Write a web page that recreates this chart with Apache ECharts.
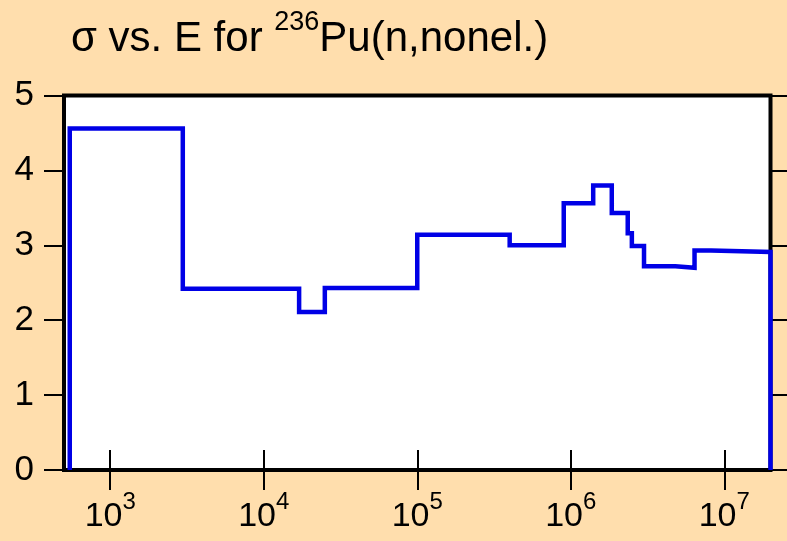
<!DOCTYPE html>
<html>
<head>
<meta charset="utf-8">
<script src="https://cdn.jsdelivr.net/npm/echarts@6/dist/echarts.min.js"></script>
<style>
html,body{margin:0;padding:0;background:#FFDEAD;}
#c{width:787px;height:541px;}
</style>
</head>
<body>
<div id="c"></div>
<script>
// Energy (eV) where each step begins, and cross section (b) held until next energy
var energies = [545, 545, 2970, 1.7e4, 2.5e4, 1e5, 4e5, 9e5, 1.4e6, 1.85e6, 2.35e6, 2.5e6, 3e6, 4.8e6, 6.4e6, 8.2e6, 2e7];
var sigma    = [0, 4.56, 2.42, 2.11, 2.43, 3.14, 3.00, 3.56, 3.80, 3.43, 3.16, 2.99, 2.72, 2.70, 2.93, 2.91, 0];
var yTicks = [0, 1, 2, 3, 4, 5];
var xDecades = [3, 4, 5, 6, 7];
var titleMain = 'σ vs. E for ';
var titleSup = '236';
var titleRest = 'Pu(n,nonel.)';

var data = energies.map(function (e, i) { return [e, sigma[i]]; });
var FONT = 'Liberation Sans, Arial, sans-serif';
var chart = echarts.init(document.getElementById('c'), null, {renderer: 'canvas'});

function decadeLabel(v) {
  var p = Math.round(Math.log10(v));
  if (Math.abs(Math.log10(v) - p) > 1e-6 || xDecades.indexOf(p) < 0) return '';
  return '{b|10}{s|' + p + '}';
}

var tickStyle = {show: true, inside: false, length: 20, lineStyle: {color: '#000', width: 2}};

chart.setOption({
  backgroundColor: '#FFDEAD',
  animation: false,
  title: {
    left: 66, top: 4,
    text: '{t|' + titleMain + '}{s|' + titleSup + '}{t|' + titleRest + '}',
    textStyle: {
      fontWeight: 'normal',
      rich: {
        t: {fontFamily: FONT, fontSize: 42, fontWeight: 'normal', color: '#000', verticalAlign: 'bottom'},
        s: {fontFamily: FONT, fontSize: 27, fontWeight: 'normal', color: '#000', verticalAlign: 'bottom', padding: [0, 0, 24, 0]}
      }
    }
  },
  grid: {
    left: 64, right: 16.5, top: 95.5, bottom: 71,
    show: true, backgroundColor: '#fff', borderColor: '#000', borderWidth: 4,
    containLabel: false
  },
  xAxis: [{
    type: 'log', logBase: 10, min: 500, max: 2e7, position: 'bottom',
    axisLine: {show: false},
    axisTick: tickStyle,
    splitLine: {show: false},
    axisLabel: {
      margin: 20, showMinLabel: false, showMaxLabel: false,
      formatter: decadeLabel,
      rich: {
        b: {fontFamily: FONT, fontSize: 34, color: '#000', verticalAlign: 'bottom'},
        s: {fontFamily: FONT, fontSize: 24, color: '#000', verticalAlign: 'bottom', padding: [0, 0, 20, 0]}
      }
    }
  }, {
    type: 'log', logBase: 10, min: 500, max: 2e7, position: 'top',
    axisLine: {show: false},
    axisTick: tickStyle,
    splitLine: {show: false},
    axisLabel: {show: false}
  }],
  yAxis: [{
    type: 'value', min: 0, max: 5, interval: 1, position: 'left',
    axisLine: {show: false},
    axisTick: tickStyle,
    splitLine: {show: false},
    axisLabel: {
      margin: 30, color: '#000', fontFamily: FONT, fontSize: 35,
      formatter: function (v) { return yTicks.indexOf(v) >= 0 ? String(v) : ''; }
    }
  }, {
    type: 'value', min: 0, max: 5, interval: 1, position: 'right',
    axisLine: {show: false},
    axisTick: tickStyle,
    splitLine: {show: false},
    axisLabel: {show: false}
  }],
  series: [{
    type: 'line', xAxisIndex: 0, yAxisIndex: 0,
    step: 'end', data: data, symbol: 'none',
    lineStyle: {color: '#0000e6', width: 4.5, join: 'miter', cap: 'butt'},
    z: 1
  }]
});
</script>
</body>
</html>
